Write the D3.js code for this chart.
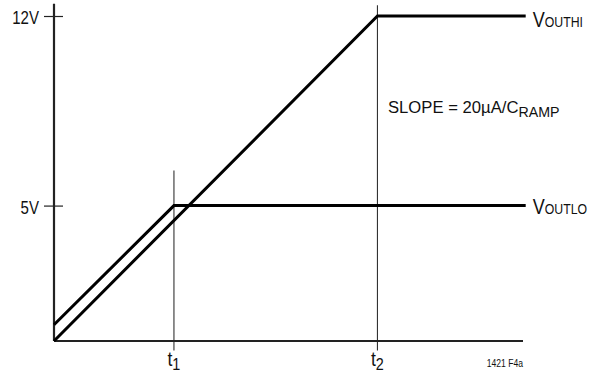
<!DOCTYPE html>
<html>
<head>
<meta charset="utf-8">
<script src="https://cdn.jsdelivr.net/npm/d3@7"></script>
<style>
  body { margin: 0; background: #fff; }
  svg text { font-family: "Liberation Sans", Arial, sans-serif; fill: #111; }
  .trace { fill: none; stroke: #000; stroke-width: 3; stroke-linejoin: miter; }
  .axis-line { stroke: #222; stroke-width: 2.2; }
  .marker { stroke: #333; stroke-width: 1.1; }
</style>
</head>
<body>
<div id="chart"></div>
<script>
// values (volts vs. arbitrary time units)
var voltTicks = [5, 12];
var voltLabels = ["5V", "12V"];
var vOutHi = [[0, 0], [12, 12], [17.5, 12]];
var vOutLo = [[0, 0.6], [4.45, 5], [17.5, 5]];
var timeMarks = [4.45, 12];
var timeLabels = ["1", "2"];
var timeMarkTops = [6.3, 12.4];

var width = 593, height = 373;
var narrow = 0.82; // no condensed font installed, squeeze the regular one

var xScale = d3.scaleLinear().domain([0, 17.4]).range([54, 523]);
var yScale = d3.scaleLinear().domain([0, 12]).range([341, 16]);

var svg = d3.select("#chart")
    .append("svg")
    .attr("width", width)
    .attr("height", height);

// vertical markers at t1, t2
svg.selectAll("line.marker")
    .data(timeMarks)
    .enter()
    .append("line")
    .attr("class", "marker")
    .attr("x1", function (d) { return xScale(d); })
    .attr("x2", function (d) { return xScale(d); })
    .attr("y1", function (d, i) { return yScale(timeMarkTops[i]); })
    .attr("y2", yScale(-0.35));

// axes
svg.append("line")
    .attr("class", "axis-line")
    .attr("x1", xScale(0)).attr("x2", xScale(0))
    .attr("y1", yScale(12.45)).attr("y2", yScale(0));

svg.append("line")
    .attr("class", "axis-line")
    .attr("x1", xScale(0)).attr("x2", xScale(17.4))
    .attr("y1", yScale(0)).attr("y2", yScale(0));

var yAxis = d3.axisLeft(yScale)
    .tickValues(voltTicks)
    .tickSize(0)
    .tickFormat("");

var yAxisG = svg.append("g")
    .attr("transform", "translate(" + xScale(0) + ",0)")
    .call(yAxis);
yAxisG.select("path.domain").remove();
yAxisG.selectAll(".tick line").remove();
yAxisG.selectAll(".tick text").remove();
yAxisG.selectAll(".tick")
    .append("line")
    .attr("x1", -10).attr("x2", 9)
    .attr("stroke", "#222")
    .attr("stroke-width", 1.2);
yAxisG.selectAll(".tick")
    .append("g")
    .attr("transform", "translate(-15,7.5) scale(0.86,1)")
    .append("text")
    .attr("text-anchor", "end")
    .style("font-size", "17.5px")
    .text(function (d, i) { return voltLabels[i]; });

// traces
var line = d3.line()
    .x(function (d) { return xScale(d[0]); })
    .y(function (d) { return yScale(d[1]); });

svg.append("path").attr("class", "trace").attr("d", line(vOutHi));
svg.append("path").attr("class", "trace").attr("d", line(vOutLo));

// text with a subscript, squeezed horizontally
function subLabel(x, y, main, sub, mainSize, subSize, shift, squeeze, anchor) {
    var t = svg.append("g")
        .attr("transform", "translate(" + x + "," + y + ") scale(" + squeeze + ",1)")
        .append("text")
        .attr("text-anchor", anchor || "start");
    t.append("tspan").style("font-size", mainSize + "px").text(main);
    if (sub) t.append("tspan").style("font-size", subSize + "px").attr("dy", shift).text(sub);
    return t;
}

subLabel(xScale(17.5) + 7, yScale(12) + 10.5, "V", "OUTHI", 22, 15, 0.5, narrow);
subLabel(xScale(17.5) + 7, yScale(5) + 8, "V", "OUTLO", 22, 15, 0.5, narrow);

// time labels
timeMarks.forEach(function (d, i) {
    subLabel(xScale(d) - 6.5, 366, "t", timeLabels[i], 19.5, 16, 3.5, 0.9);
});

subLabel(388, 113, "SLOPE = 20\u00B5A/C", "RAMP", 17, 14.5, 3.5, 0.98);

subLabel(523, 367, "1421 F4a", null, 10, 0, 0, 0.86, "end");
</script>
</body>
</html>
